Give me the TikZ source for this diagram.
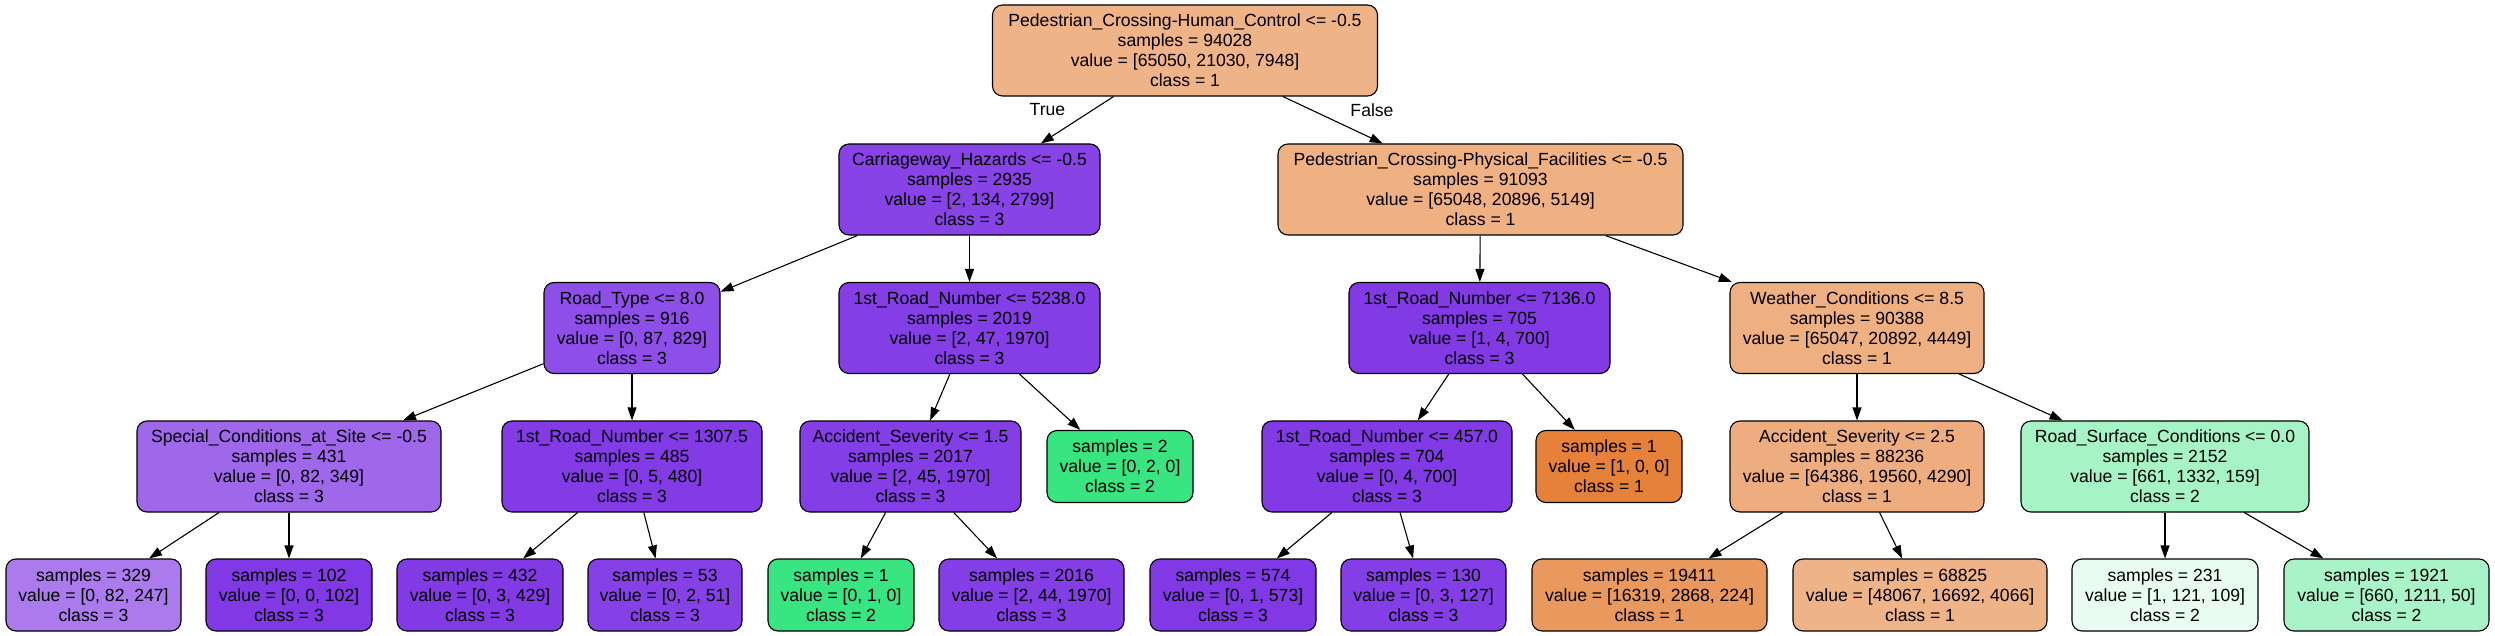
\documentclass[tikz,border=0pt]{standalone}
\usepackage{fontspec}
\setmainfont{Liberation Sans}
\usetikzlibrary{arrows.meta}
\definecolor{cRoot}{HTML}{EFB388}
\definecolor{cCarr}{HTML}{8743E6}
\definecolor{cPhys}{HTML}{EFB082}
\definecolor{cRT}{HTML}{8E4EE8}
\definecolor{cRNa}{HTML}{843EE6}
\definecolor{cRNb}{HTML}{823AE5}
\definecolor{cWC}{HTML}{EEAF81}
\definecolor{cSC}{HTML}{9F68EB}
\definecolor{cRNc}{HTML}{823BE5}
\definecolor{cASa}{HTML}{843EE6}
\definecolor{cGreen}{HTML}{39E581}
\definecolor{cRNd}{HTML}{823AE5}
\definecolor{cOrange}{HTML}{E58139}
\definecolor{cASb}{HTML}{EEAD7E}
\definecolor{cRSC}{HTML}{A6F3C6}
\definecolor{cL329}{HTML}{AB7BEE}
\definecolor{cPurple}{HTML}{8139E5}
\definecolor{cL432}{HTML}{823AE5}
\definecolor{cL53}{HTML}{8641E6}
\definecolor{cL2016}{HTML}{843EE6}
\definecolor{cL130}{HTML}{843EE6}
\definecolor{cL19411}{HTML}{EA995E}
\definecolor{cL68825}{HTML}{EFB388}
\definecolor{cL231}{HTML}{E9FCF1}
\definecolor{cL1921}{HTML}{A8F4C8}
\tikzset{
  treenode/.style={draw=black, line width=1.1pt, rounded corners=10pt, inner sep=0pt,
    align=center, font=\fontsize{17.6}{20}\selectfont},
  splitnode/.style={treenode, minimum height=91pt},
  leafnode/.style={treenode, minimum height=72pt},
  edge/.style={draw=black, line width=1.1pt, -{Triangle[length=13pt,width=9pt]}},
  edgelabel/.style={font=\fontsize{17.6}{20}\selectfont, inner sep=0pt}
}
\begin{document}
\begin{tikzpicture}[x=1pt,y=-1pt]
\useasboundingbox (0,0) rectangle (2495,636);
% level 0
\node[splitnode, fill=cRoot, minimum width=385pt] (root) at (1185,50.5)
  {Pedestrian\_Crossing-Human\_Control <= -0.5\\samples = 94028\\value = [65050, 21030, 7948]\\class = 1};
% level 1
\node[splitnode, fill=cCarr, minimum width=261pt] (carr) at (969.5,189.5)
  {Carriageway\_Hazards <= -0.5\\samples = 2935\\value = [2, 134, 2799]\\class = 3};
\node[splitnode, fill=cPhys, minimum width=405pt] (phys) at (1480.5,189.5)
  {Pedestrian\_Crossing-Physical\_Facilities <= -0.5\\samples = 91093\\value = [65048, 20896, 5149]\\class = 1};
% level 2
\node[splitnode, fill=cRT, minimum width=176pt] (rt) at (632,328)
  {Road\_Type <= 8.0\\samples = 916\\value = [0, 87, 829]\\class = 3};
\node[splitnode, fill=cRNa, minimum width=261pt] (rnA) at (969.5,328)
  {1st\_Road\_Number <= 5238.0\\samples = 2019\\value = [2, 47, 1970]\\class = 3};
\node[splitnode, fill=cRNb, minimum width=261pt] (rnB) at (1479.5,328)
  {1st\_Road\_Number <= 7136.0\\samples = 705\\value = [1, 4, 700]\\class = 3};
\node[splitnode, fill=cWC, minimum width=254pt] (wc) at (1857,328)
  {Weather\_Conditions <= 8.5\\samples = 90388\\value = [65047, 20892, 4449]\\class = 1};
% level 3
\node[splitnode, fill=cSC, minimum width=304pt] (sc) at (289,466.5)
  {Special\_Conditions\_at\_Site <= -0.5\\samples = 431\\value = [0, 82, 349]\\class = 3};
\node[splitnode, fill=cRNc, minimum width=260pt] (rnC) at (632,466.5)
  {1st\_Road\_Number <= 1307.5\\samples = 485\\value = [0, 5, 480]\\class = 3};
\node[splitnode, fill=cASa, minimum width=221pt] (asA) at (910.5,466.5)
  {Accident\_Severity <= 1.5\\samples = 2017\\value = [2, 45, 1970]\\class = 3};
\node[leafnode, fill=cGreen, minimum width=146pt] (lfTwo) at (1120,466.5)
  {samples = 2\\value = [0, 2, 0]\\class = 2};
\node[splitnode, fill=cRNd, minimum width=250pt] (rnD) at (1387,466.5)
  {1st\_Road\_Number <= 457.0\\samples = 704\\value = [0, 4, 700]\\class = 3};
\node[leafnode, fill=cOrange, minimum width=146pt] (lfOne) at (1609,466.5)
  {samples = 1\\value = [1, 0, 0]\\class = 1};
\node[splitnode, fill=cASb, minimum width=254pt] (asB) at (1857,466.5)
  {Accident\_Severity <= 2.5\\samples = 88236\\value = [64386, 19560, 4290]\\class = 1};
\node[splitnode, fill=cRSC, minimum width=288pt] (rsc) at (2165,466.5)
  {Road\_Surface\_Conditions <= 0.0\\samples = 2152\\value = [661, 1332, 159]\\class = 2};
% level 4
\node[leafnode, fill=cL329, minimum width=175pt] (l329) at (93.5,595)
  {samples = 329\\value = [0, 82, 247]\\class = 3};
\node[leafnode, fill=cPurple, minimum width=166pt] (l102) at (289,595)
  {samples = 102\\value = [0, 0, 102]\\class = 3};
\node[leafnode, fill=cL432, minimum width=166pt] (l432) at (480,595)
  {samples = 432\\value = [0, 3, 429]\\class = 3};
\node[leafnode, fill=cL53, minimum width=154pt] (l53) at (665,595)
  {samples = 53\\value = [0, 2, 51]\\class = 3};
\node[leafnode, fill=cGreen, minimum width=146pt] (lg1) at (841,595)
  {samples = 1\\value = [0, 1, 0]\\class = 2};
\node[leafnode, fill=cL2016, minimum width=185pt] (l2016) at (1031.5,595)
  {samples = 2016\\value = [2, 44, 1970]\\class = 3};
\node[leafnode, fill=cPurple, minimum width=166pt] (l574) at (1233,595)
  {samples = 574\\value = [0, 1, 573]\\class = 3};
\node[leafnode, fill=cL130, minimum width=165pt] (l130) at (1423.5,595)
  {samples = 130\\value = [0, 3, 127]\\class = 3};
\node[leafnode, fill=cL19411, minimum width=235pt] (l19411) at (1649.5,595)
  {samples = 19411\\value = [16319, 2868, 224]\\class = 1};
\node[leafnode, fill=cL68825, minimum width=254pt] (l68825) at (1920,595)
  {samples = 68825\\value = [48067, 16692, 4066]\\class = 1};
\node[leafnode, fill=cL231, minimum width=186pt] (l231) at (2165,595)
  {samples = 231\\value = [1, 121, 109]\\class = 2};
\node[leafnode, fill=cL1921, minimum width=205pt] (l1921) at (2386.5,595)
  {samples = 1921\\value = [660, 1211, 50]\\class = 2};
% edges
\draw[edge] (root) -- (carr);
\draw[edge] (root) -- (phys);
\node[edgelabel] (lblTrue) at (1047.5,110) {True};
\node[edgelabel] (lblFalse) at (1372,110) {False};
\draw[edge] (carr) -- (rt);
\draw[edge] (carr) -- (rnA);
\draw[edge] (phys) -- (rnB);
\draw[edge] (phys) -- (wc);
\draw[edge] (rt) -- (sc);
\draw[edge] (rt) -- (rnC);
\draw[edge] (rnA) -- (asA);
\draw[edge] (rnA) -- (lfTwo);
\draw[edge] (rnB) -- (rnD);
\draw[edge] (rnB) -- (lfOne);
\draw[edge] (wc) -- (asB);
\draw[edge] (wc) -- (rsc);
\draw[edge] (sc) -- (l329);
\draw[edge] (sc) -- (l102);
\draw[edge] (rnC) -- (l432);
\draw[edge] (rnC) -- (l53);
\draw[edge] (asA) -- (lg1);
\draw[edge] (asA) -- (l2016);
\draw[edge] (rnD) -- (l574);
\draw[edge] (rnD) -- (l130);
\draw[edge] (asB) -- (l19411);
\draw[edge] (asB) -- (l68825);
\draw[edge] (rsc) -- (l231);
\draw[edge] (rsc) -- (l1921);
\end{tikzpicture}
\end{document}
